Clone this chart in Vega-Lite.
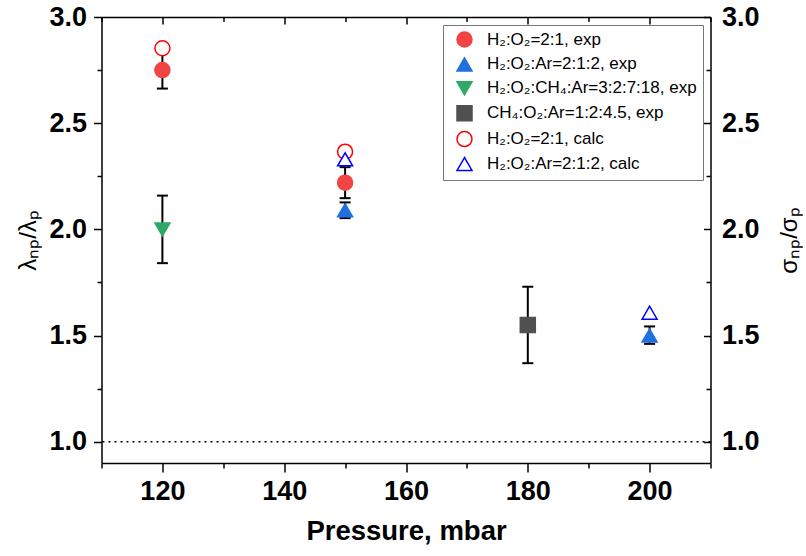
{
  "$schema": "https://vega.github.io/schema/vega-lite/v6.json",
  "width": 609,
  "height": 446,
  "autosize": {"type": "none"},
  "padding": {"left": 101.5, "top": 17, "right": 95.5, "bottom": 93},
  "background": "white",
  "datasets": {
    "pts": [
      {"series": "H₂:O₂=2:1, exp", "p": 120, "v": 2.75, "lo": 2.663, "hi": 2.837},
      {"series": "H₂:O₂=2:1, exp", "p": 150, "v": 2.22, "lo": 2.147, "hi": 2.293},
      {"series": "H₂:O₂:Ar=2:1:2, exp", "p": 150, "v": 2.09, "lo": 2.053, "hi": 2.127},
      {"series": "H₂:O₂:Ar=2:1:2, exp", "p": 200, "v": 1.50, "lo": 1.461, "hi": 1.543},
      {"series": "H₂:O₂:CH₄:Ar=3:2:7:18, exp", "p": 120, "v": 2.00, "lo": 1.841, "hi": 2.159},
      {"series": "CH₄:O₂:Ar=1:2:4.5, exp", "p": 180, "v": 1.55, "lo": 1.37, "hi": 1.73},
      {"series": "H₂:O₂=2:1, calc", "p": 120, "v": 2.853, "lo": null, "hi": null},
      {"series": "H₂:O₂=2:1, calc", "p": 150, "v": 2.366, "lo": null, "hi": null},
      {"series": "H₂:O₂:Ar=2:1:2, calc", "p": 150, "v": 2.33, "lo": null, "hi": null},
      {"series": "H₂:O₂:Ar=2:1:2, calc", "p": 200, "v": 1.608, "lo": null, "hi": null}
    ],
    "ref": [{"r": 1.0}]
  },
  "resolve": {"axis": {"x": "independent", "y": "independent"}},
  "layer": [
    {
      "data": {"name": "ref"},
      "mark": {"type": "rule", "color": "black", "strokeDash": [2, 4], "strokeWidth": 1.5},
      "encoding": {
        "y": {"field": "r", "type": "quantitative", "scale": {"domain": [0.9, 3.0], "nice": false, "zero": false}, "axis": null}
      }
    },
    {
      "data": {"name": "pts"},
      "transform": [{"filter": "isValid(datum.lo)"}],
      "mark": {"type": "rule", "color": "black", "strokeWidth": 2},
      "encoding": {
        "x": {"field": "p", "type": "quantitative", "scale": {"domain": [110, 210], "nice": false, "zero": false},
          "axis": {"orient": "bottom", "values": [120, 140, 160, 180, 200], "tickSize": 9, "labelPadding": 6, "title": "Pressure, mbar", "titleFontSize": 27.5, "titlePadding": 13}},
        "y": {"field": "lo", "type": "quantitative",
          "axis": {"orient": "left", "values": [1.0, 1.5, 2.0, 2.5, 3.0], "format": ".1f", "tickSize": 8, "labelPadding": 7, "title": "λₙₚ/λₚ", "titleFontWeight": "normal", "titleFontSize": 24, "titlePadding": 8}},
        "y2": {"field": "hi"}
      }
    },
    {
      "data": {"name": "pts"},
      "transform": [{"filter": "isValid(datum.lo)"}],
      "mark": {"type": "tick", "orient": "horizontal", "color": "black", "thickness": 2, "size": 11, "opacity": 1},
      "encoding": {
        "x": {"field": "p", "type": "quantitative",
          "axis": {"orient": "bottom", "values": [110, 130, 150, 170, 190, 210], "tickSize": 5, "labels": false, "domain": false, "title": null}},
        "y": {"field": "lo", "type": "quantitative",
          "axis": {"orient": "left", "values": [1.25, 1.75, 2.25, 2.75], "tickSize": 4.5, "labels": false, "domain": false, "title": null}}
      }
    },
    {
      "data": {"name": "pts"},
      "transform": [{"filter": "isValid(datum.lo)"}],
      "mark": {"type": "tick", "orient": "horizontal", "color": "black", "thickness": 2, "size": 11, "opacity": 1},
      "encoding": {
        "x": {"field": "p", "type": "quantitative",
          "axis": {"orient": "top", "values": [120, 140, 160, 180, 200], "tickSize": -7, "labels": false, "title": null}},
        "y": {"field": "hi", "type": "quantitative",
          "axis": {"orient": "right", "values": [1.0, 1.5, 2.0, 2.5, 3.0], "format": ".1f", "tickSize": -7, "labelPadding": 18, "title": "σₙₚ/σₚ", "titleAngle": -90, "titleFontWeight": "normal", "titleFontSize": 24, "titlePadding": 42}}
      }
    },
    {
      "data": {"name": "pts"},
      "mark": {"type": "point", "opacity": 1, "strokeWidth": 1.5},
      "encoding": {
        "x": {"field": "p", "type": "quantitative",
          "axis": {"orient": "top", "values": [110, 130, 150, 170, 190, 210], "tickSize": -4.5, "labels": false, "domain": false, "title": null}},
        "y": {"field": "v", "type": "quantitative",
          "axis": {"orient": "right", "values": [1.25, 1.75, 2.25, 2.75], "tickSize": -4.5, "labels": false, "domain": false, "title": null}},
        "fill": {"field": "series", "type": "nominal",
          "scale": {"domain": ["H₂:O₂=2:1, exp", "H₂:O₂:Ar=2:1:2, exp", "H₂:O₂:CH₄:Ar=3:2:7:18, exp", "CH₄:O₂:Ar=1:2:4.5, exp", "H₂:O₂=2:1, calc", "H₂:O₂:Ar=2:1:2, calc"],
            "range": ["#F24444", "#1F6FE0", "#2FA866", "#505050", "#FFFFFF", "#FFFFFF"]}},
        "stroke": {"field": "series", "type": "nominal",
          "scale": {"domain": ["H₂:O₂=2:1, exp", "H₂:O₂:Ar=2:1:2, exp", "H₂:O₂:CH₄:Ar=3:2:7:18, exp", "CH₄:O₂:Ar=1:2:4.5, exp", "H₂:O₂=2:1, calc", "H₂:O₂:Ar=2:1:2, calc"],
            "range": ["#F24444", "#1F6FE0", "#2FA866", "#505050", "#FF0000", "#0000FF"]}},
        "shape": {"field": "series", "type": "nominal",
          "scale": {"domain": ["H₂:O₂=2:1, exp", "H₂:O₂:Ar=2:1:2, exp", "H₂:O₂:CH₄:Ar=3:2:7:18, exp", "CH₄:O₂:Ar=1:2:4.5, exp", "H₂:O₂=2:1, calc", "H₂:O₂:Ar=2:1:2, calc"],
            "range": ["circle", "triangle-up", "triangle-down", "square", "circle", "triangle-up"]}},
        "size": {"field": "series", "type": "nominal",
          "scale": {"domain": ["H₂:O₂=2:1, exp", "H₂:O₂:Ar=2:1:2, exp", "H₂:O₂:CH₄:Ar=3:2:7:18, exp", "CH₄:O₂:Ar=1:2:4.5, exp", "H₂:O₂=2:1, calc", "H₂:O₂:Ar=2:1:2, calc"],
            "range": [225, 225, 270, 170, 225, 225]}}
      }
    }
  ],
  "config": {
    "view": {"stroke": null},
    "axis": {
      "grid": false,
      "domainColor": "black",
      "domainWidth": 1.5,
      "tickColor": "black",
      "tickWidth": 1.5,
      "labelFont": "Liberation Sans",
      "labelFontSize": 27,
      "labelFontWeight": "bold",
      "labelColor": "black",
      "titleFont": "Liberation Sans",
      "titleFontWeight": "bold",
      "titleColor": "black"
    },
    "legend": {
      "orient": "none",
      "legendX": 341.5,
      "legendY": 8,
      "title": null,
      "labelFont": "Liberation Sans",
      "labelFontSize": 17,
      "labelColor": "black",
      "labelLimit": 400,
      "rowPadding": 4.9,
      "padding": 6,
      "symbolOffset": 7,
      "labelOffset": 14,
      "strokeColor": "#777777",
      "fillColor": "white",
      "symbolStrokeWidth": 1.5
    }
  }
}
